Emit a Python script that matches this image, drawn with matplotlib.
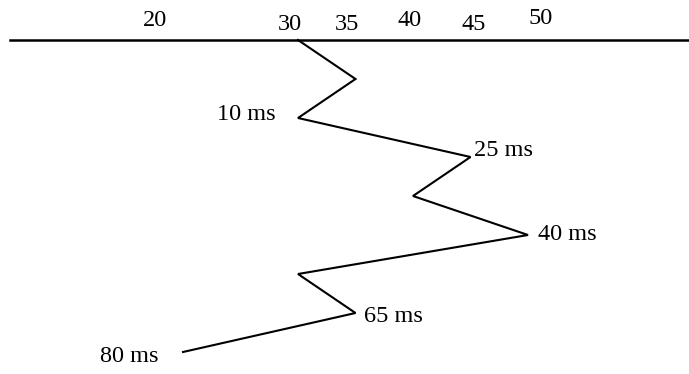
import matplotlib.pyplot as plt

# zigzag vertices: x value on the top scale, one vertex per row
values = [30, 35, 30, 45, 40, 50, 30, 35, 20]
rows = list(range(len(values)))

# time labels attached to some vertices
label_rows = [2, 3, 5, 7, 8]
label_texts = ["10 ms", "25 ms", "40 ms", "65 ms", "80 ms"]

# top scale labels (hand placed, slightly off the true scale)
tick_labels = ["20", "30", "35", "40", "45", "50"]
tick_pos = [17.6, 29.3, 34.3, 39.7, 45.3, 51.1]
tick_lift = [20, 16, 16, 19, 16, 21]  # px above the baseline line

plt.rcParams['font.family'] = ['Liberation Serif', 'DejaVu Serif']
FS = 17.5

fig = plt.figure(figsize=(6.89, 3.74), dpi=100)
ax = fig.add_axes([0, 0, 1, 1])
ax.set_xlim(30 - 298 / 11.5, 30 + 391 / 11.5)
ax.set_ylim((374 - 40) / 39, -40 / 39)
ax.axis("off")

ax.axhline(0, xmin=10 / 689, xmax=1, color="black", lw=1.8)
ax.plot(values, rows, color="black", lw=1.5, solid_joinstyle="miter")

for lab, p, lift in zip(tick_labels, tick_pos, tick_lift):
    ax.annotate(lab, (p, 0), xytext=(0, lift * 0.72), textcoords="offset points",
                ha="center", va="center", fontsize=FS)

# placement of the time labels (px offsets from vertex)
offsets = {2: (-22, 4, "right"), 3: (3, 6, "left"), 5: (10, 1, "left"),
           7: (9, -4, "left"), 8: (-24, -4, "right")}
for r, t in zip(label_rows, label_texts):
    dx, dy, ha = offsets[r]
    ax.annotate(t, (values[r], r), xytext=(dx * 0.72, dy * 0.72),
                textcoords="offset points", ha=ha, va="center", fontsize=FS)

fig.savefig("out.png", dpi=100)
